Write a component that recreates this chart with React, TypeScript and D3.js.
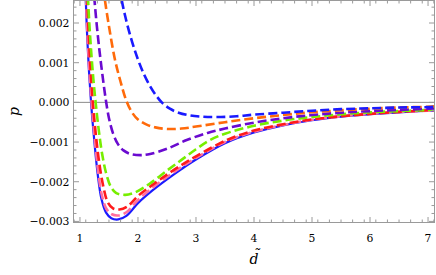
import React from "react";
import * as d3 from "d3";

const W = 436;
const H = 275;
const M = { left: 73, right: 435, top: 0, bottom: 223 };

const xDomain = [0.88, 7.12];
const yDomain = [-0.00304, 0.00258];

const xTicks = [1, 2, 3, 4, 5, 6, 7];
const yTicks = [-0.003, -0.002, -0.001, 0, 0.001, 0.002];
const yTickLabels = ["\u22120.003", "\u22120.002", "\u22120.001", "0.000", "0.001", "0.002"];

// Blue solid
const dSolid = [1.09, 1.10, 1.125, 1.155, 1.185, 1.215, 1.255, 1.305, 1.37, 1.45, 1.54, 1.66, 1.8, 2.0, 2.25, 2.5, 2.75, 3.0, 3.5, 4.0, 4.5, 5.0, 5.5, 6.0, 6.5, 7.0, 7.12];
const pSolid = [0.003, 0.00258, 0.00165, 0.0008, 0.00013, -0.00045, -0.0011, -0.0018, -0.00243, -0.00278, -0.00292, -0.00295, -0.00286, -0.00254, -0.00222, -0.00194, -0.00168, -0.00144, -0.00103, -0.00076, -0.00058, -0.00045, -0.00036, -0.0003, -0.00025, -0.00021, -0.0002];

// Pink dashed
const dPink = [1.095, 1.105, 1.13, 1.16, 1.19, 1.22, 1.26, 1.31, 1.375, 1.455, 1.55, 1.66, 1.8, 2.0, 2.25, 2.5, 2.75, 3.0, 3.5, 4.0, 4.5, 5.0, 5.5, 6.0, 6.5, 7.0, 7.12];
const pPink = [0.003, 0.00258, 0.00168, 0.00085, 0.0002, -0.00036, -0.001, -0.0017, -0.00232, -0.00268, -0.00282, -0.00285, -0.00277, -0.00246, -0.00215, -0.00188, -0.00163, -0.0014, -0.001, -0.00074, -0.00057, -0.00044, -0.00035, -0.00029, -0.00024, -0.00021, -0.0002];

// Red dashed
const dRed = [1.115, 1.126, 1.15, 1.18, 1.21, 1.24, 1.28, 1.33, 1.4, 1.48, 1.57, 1.68, 1.82, 2.0, 2.25, 2.5, 2.75, 3.0, 3.53, 4.0, 4.5, 5.0, 5.5, 6.0, 6.5, 7.0, 7.12];
const pRed = [0.003, 0.00258, 0.00175, 0.0009, 0.00025, -0.0003, -0.0009, -0.0015, -0.0021, -0.00252, -0.00267, -0.0027, -0.00262, -0.00236, -0.00208, -0.00182, -0.00158, -0.00136, -0.00095, -0.00071, -0.00055, -0.00043, -0.00035, -0.00029, -0.00024, -0.0002, -0.00019];

// Green dashed
const dGreen = [1.128, 1.14, 1.165, 1.195, 1.23, 1.27, 1.32, 1.38, 1.45, 1.53, 1.62, 1.78, 1.95, 2.2, 2.5, 2.75, 3.0, 3.24, 3.5, 4.0, 4.5, 5.0, 5.5, 6.0, 6.5, 7.0, 7.12];
const pGreen = [0.003, 0.00258, 0.0019, 0.00125, 0.0006, 0, -0.00065, -0.00128, -0.00178, -0.00212, -0.00228, -0.00233, -0.00227, -0.00205, -0.00172, -0.00145, -0.00118, -0.00095, -0.00079, -0.00059, -0.00046, -0.00037, -0.0003, -0.00025, -0.00022, -0.00019, -0.00018];

// Purple dashed
const dPurple = [1.225, 1.25, 1.29, 1.335, 1.385, 1.44, 1.5, 1.57, 1.65, 1.75, 1.87, 2.05, 2.21, 2.5, 2.84, 3.2, 3.5, 4.0, 4.5, 5.0, 5.5, 6.0, 6.5, 7.0, 7.12];
const pPurple = [0.003, 0.00258, 0.00194, 0.00132, 0.00072, 0.00012, -0.0004, -0.00078, -0.00104, -0.00121, -0.0013, -0.00133, -0.0013, -0.00117, -0.00095, -0.00077, -0.00066, -0.00051, -0.0004, -0.00032, -0.00026, -0.00022, -0.00019, -0.00016, -0.00015];

// Orange dashed
const dOrange = [1.405, 1.43, 1.5, 1.6, 1.7, 1.8, 1.9, 2.0, 2.15, 2.3, 2.5, 2.75, 3.0, 3.5, 4.0, 4.5, 5.0, 5.5, 6.0, 6.5, 7.0, 7.12];
const pOrange = [0.0029, 0.00258, 0.00192, 0.0011, 0.00052, 0.00004, -0.00026, -0.00043, -0.00056, -0.00063, -0.00067, -0.00066, -0.00061, -0.0005, -0.0004, -0.00032, -0.00025, -0.0002, -0.00016, -0.00013, -0.00011, -0.0001];

// Blue dashed
const dBlueDash = [1.69, 1.72, 1.8, 1.9, 2.0, 2.1, 2.2, 2.3, 2.41, 2.55, 2.7, 2.9, 3.1, 3.36, 3.7, 4.0, 4.5, 5.0, 5.5, 6.0, 6.5, 7.0, 7.12];
const pBlueDash = [0.0029, 0.00258, 0.00205, 0.00152, 0.00108, 0.00072, 0.00043, 0.0002, 0, -0.00016, -0.00026, -0.00033, -0.00036, -0.00037, -0.00035, -0.00031, -0.00026, -0.00021, -0.00017, -0.00015, -0.00013, -0.00012, -0.00011];

const seriesList = [
  { d: dSolid, p: pSolid, color: "#1a1aff", dash: null, width: 2.2 },
  { d: dPink, p: pPink, color: "#ff6f9f", dash: "9,4", width: 2.6 },
  { d: dRed, p: pRed, color: "#ff1a1a", dash: "9,4", width: 2.6 },
  { d: dGreen, p: pGreen, color: "#77ee00", dash: "9,4", width: 2.6 },
  { d: dPurple, p: pPurple, color: "#6a0ad0", dash: "9,4", width: 2.6 },
  { d: dOrange, p: pOrange, color: "#ff6a0a", dash: "9,4", width: 2.6 },
  { d: dBlueDash, p: pBlueDash, color: "#1a1aff", dash: "9,4", width: 2.6 },
];

const FONT = "'DejaVu Serif', 'Liberation Serif', serif";

export default function App() {
  const x = d3.scaleLinear().domain(xDomain).range([M.left, M.right]);
  const y = d3.scaleLinear().domain(yDomain).range([M.bottom, M.top]);
  const line = d3
    .line<[number, number]>()
    .x((d) => x(d[0]))
    .y((d) => y(d[1]))
    .curve(d3.curveCatmullRom.alpha(0.5));

  const xMinor = d3.range(0.9, 7.12, 0.2).filter((v) => Math.abs(v - Math.round(v)) > 1e-6);
  const yMinor = d3.range(-0.003, 0.00259, 0.0002).filter((v) => Math.abs(v / 0.001 - Math.round(v / 0.001)) > 1e-6);

  const frameColor = "#9a9a9a";

  return (
    <div style={{ position: "fixed", left: 0, top: 0 }}>
      <svg width={W} height={H} style={{ display: "block", background: "#fff" }}>
        <defs>
          <clipPath id="plotClip">
            <rect x={M.left} y={M.top} width={M.right - M.left} height={M.bottom - M.top} />
          </clipPath>
        </defs>
        <line x1={M.left} x2={M.right} y1={y(0)} y2={y(0)} stroke="#8a8a8a" strokeWidth={1} />
        <g clipPath="url(#plotClip)">
          {seriesList.map((s, i) => (
            <path
              key={i}
              d={line(s.d.map((v, j) => [v, s.p[j]] as [number, number])) || ""}
              fill="none"
              stroke={s.color}
              strokeWidth={s.width}
              strokeDasharray={s.dash || undefined}
            />
          ))}
        </g>
        <rect x={M.left + 0.5} y={M.top + 0.5} width={M.right - M.left - 1} height={M.bottom - M.top - 1} fill="none" stroke={frameColor} strokeWidth={1} />
        <g fill="#000">
          {xTicks.map((t) => (
            <g key={"xt" + t}>
              <line x1={x(t)} x2={x(t)} y1={M.bottom} y2={M.bottom - 6} stroke={frameColor} />
              <line x1={x(t)} x2={x(t)} y1={M.top} y2={M.top + 6} stroke={frameColor} />
              <text x={x(t)} y={241.5} textAnchor="middle" fontFamily={FONT} fontSize={10.8}>
                {t}
              </text>
            </g>
          ))}
          {xMinor.map((t, i) => (
            <g key={"xm" + i}>
              <line x1={x(t)} x2={x(t)} y1={M.bottom} y2={M.bottom - 3.5} stroke={frameColor} />
              <line x1={x(t)} x2={x(t)} y1={M.top} y2={M.top + 3.5} stroke={frameColor} />
            </g>
          ))}
          {yTicks.map((t, i) => (
            <g key={"yt" + i}>
              <line x1={M.left} x2={M.left + 6} y1={y(t)} y2={y(t)} stroke={frameColor} />
              <line x1={M.right} x2={M.right - 6} y1={y(t)} y2={y(t)} stroke={frameColor} />
              <text x={69.5} y={y(t) + 4} textAnchor="end" fontFamily={FONT} fontSize={10.8}>
                {yTickLabels[i]}
              </text>
            </g>
          ))}
          {yMinor.map((t, i) => (
            <g key={"ym" + i}>
              <line x1={M.left} x2={M.left + 3.5} y1={y(t)} y2={y(t)} stroke={frameColor} />
              <line x1={M.right} x2={M.right - 3.5} y1={y(t)} y2={y(t)} stroke={frameColor} />
            </g>
          ))}
          <text x={254} y={263.5} textAnchor="middle" fontFamily={FONT} fontStyle="italic" fontSize={14}>
            {"d\u0303"}
          </text>
          <text
            transform={`translate(19, ${(M.top + M.bottom) / 2}) rotate(-90)`}
            textAnchor="middle"
            fontFamily={FONT}
            fontStyle="italic"
            fontSize={14}
          >
            p
          </text>
        </g>
      </svg>
    </div>
  );
}
